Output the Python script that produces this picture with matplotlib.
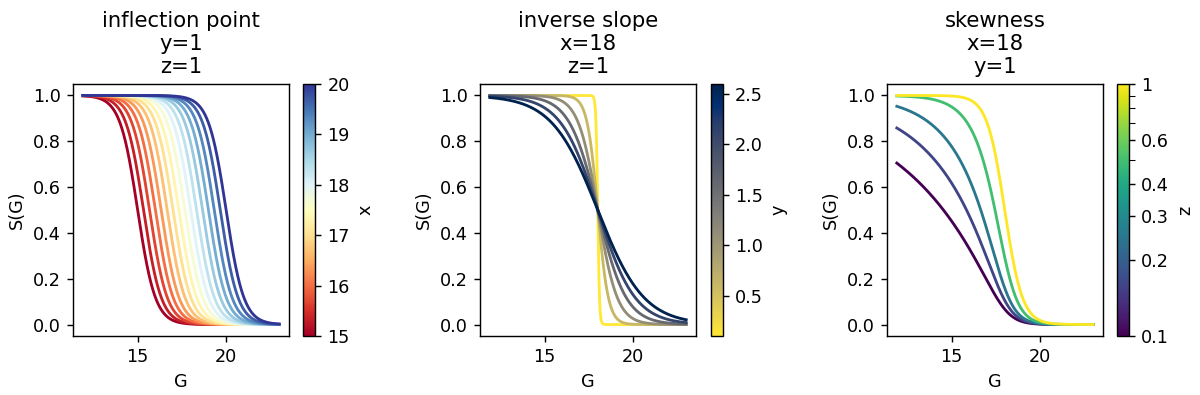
import numpy as np
import matplotlib
matplotlib.use('Agg')
import matplotlib.pyplot as plt
from matplotlib.colors import Normalize, LogNorm
from matplotlib.cm import ScalarMappable

x_values = [15.0, 15.33, 15.67, 16.0, 16.33, 16.67, 17.0, 17.33,
            17.67, 18.0, 18.33, 18.67, 19.0, 19.33, 19.67, 20.0]
y_values = [0.1, 0.6, 1.1, 1.6, 2.1, 2.6]
z_values = [0.1, 0.16, 0.25, 0.5, 1.0]

x_fixed = 18
y_fixed = 1
z_fixed = 1

G_min = 11.9
G_max = 23.0

z_ticks = [0.1, 0.2, 0.3, 0.4, 0.6, 1.0]
z_ticklabels = ['0.1', '0.2', '0.3', '0.4', '0.6', '1']
z_minor = [0.5, 0.7, 0.8, 0.9]


def selection(G, x, y, z):
  # skewed sigmoid: 1 - (logistic rising)^z
  return 1.0 - (0.5 * (1.0 + np.tanh((G - x) / y))) ** z


if __name__ == '__main__':

  G = np.linspace(G_min, G_max, 2000)

  dpi = 127
  fig = plt.figure(figsize=(1200 / dpi, 395 / dpi), dpi=dpi)
  W, H = 1200.0, 395.0
  ax_w, ax_h = 216 / W, 252 / H
  bottom = (H - 336) / H
  cb_w = 12 / W

  # ----------------------------------------------------------------------------
  # inflection point
  # ----------------------------------------------------------------------------
  ax1 = fig.add_axes([73 / W, bottom, ax_w, ax_h])
  cax1 = fig.add_axes([303 / W, bottom, cb_w, ax_h])
  norm1 = Normalize(vmin=min(x_values), vmax=max(x_values))
  cmap1 = plt.get_cmap('RdYlBu')
  for x in x_values:
    ax1.plot(G, selection(G, x, y_fixed, z_fixed), color=cmap1(norm1(x)), lw=1.6)
  ax1.set_title('inflection point\ny=%d\nz=%d' % (y_fixed, z_fixed))
  ax1.set_xlabel('G')
  ax1.set_ylabel('S(G)')
  cb1 = fig.colorbar(ScalarMappable(norm=norm1, cmap=cmap1), cax=cax1)
  cb1.set_label('x')

  # ----------------------------------------------------------------------------
  # inverse slope
  # ----------------------------------------------------------------------------
  ax2 = fig.add_axes([480 / W, bottom, ax_w, ax_h])
  cax2 = fig.add_axes([710.5 / W, bottom, cb_w, ax_h])
  norm2 = Normalize(vmin=min(y_values), vmax=max(y_values))
  cmap2 = plt.get_cmap('cividis_r')
  for y in y_values:
    ax2.plot(G, selection(G, x_fixed, y, z_fixed), color=cmap2(norm2(y)), lw=1.6)
  ax2.set_title('inverse slope\nx=%d\nz=%d' % (x_fixed, z_fixed))
  ax2.set_xlabel('G')
  ax2.set_ylabel('S(G)')
  cb2 = fig.colorbar(ScalarMappable(norm=norm2, cmap=cmap2), cax=cax2)
  cb2.set_label('y')

  # ----------------------------------------------------------------------------
  # skewness
  # ----------------------------------------------------------------------------
  ax3 = fig.add_axes([887 / W, bottom, ax_w, ax_h])
  cax3 = fig.add_axes([1117 / W, bottom, cb_w, ax_h])
  norm3 = LogNorm(vmin=min(z_values), vmax=max(z_values))
  cmap3 = plt.get_cmap('viridis')
  for z in z_values:
    ax3.plot(G, selection(G, x_fixed, y_fixed, z), color=cmap3(norm3(z)), lw=1.6)
  ax3.set_title('skewness\nx=%d\ny=%d' % (x_fixed, y_fixed))
  ax3.set_xlabel('G')
  ax3.set_ylabel('S(G)')
  cb3 = fig.colorbar(ScalarMappable(norm=norm3, cmap=cmap3), cax=cax3)
  cb3.set_ticks(z_ticks)
  cb3.set_ticklabels(z_ticklabels)
  cb3.ax.set_yticks(z_minor, minor=True)
  cb3.ax.yaxis.set_minor_formatter(matplotlib.ticker.NullFormatter())
  cb3.ax.tick_params(which='minor', length=3.5)
  cb3.set_label('z')

  for ax in (ax1, ax2, ax3):
    ax.set_ylim(-0.05, 1.05)
    ax.set_xticks([15, 20])

  plt.savefig('out.png')
